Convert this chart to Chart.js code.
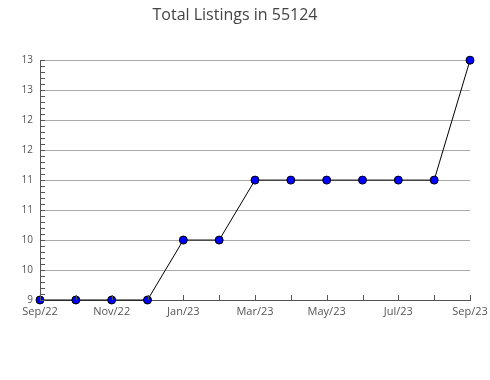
<!DOCTYPE html>
<html>
<head>
<meta charset="utf-8">
<script src="https://cdn.jsdelivr.net/npm/chart.js@4"></script>
<style>
  body { margin: 0; background: #fff; }
  #wrap { width: 490px; height: 380px; }
</style>
</head>
<body>
<div id="wrap"><canvas id="chart" width="490" height="380"></canvas></div>
<script>
const months = ["Sep/22", "Oct/22", "Nov/22", "Dec/22", "Jan/23", "Feb/23", "Mar/23",
  "Apr/23", "May/23", "Jun/23", "Jul/23", "Aug/23", "Sep/23"];
const listings = [9, 9, 9, 9, 10, 10, 11, 11, 11, 11, 11, 11, 13];
const yMin = 9;
const yMax = 13;
const yStep = 0.5;

// small inward tick marks on both axes, like the original
const innerTicks = {
  id: 'innerTicks',
  afterDatasetsDraw(chart) {
    const ctx = chart.ctx;
    const x = chart.scales.x;
    const y = chart.scales.y;
    const area = chart.chartArea;
    ctx.save();
    ctx.strokeStyle = '#555';
    ctx.lineWidth = 1;
    ctx.beginPath();
    for (let v = yMin; v <= yMax + 1e-9; v += 0.1) {
      const py = Math.round(y.getPixelForValue(v)) + 0.5;
      ctx.moveTo(area.left, py);
      ctx.lineTo(area.left + 5, py);
    }
    months.forEach((m, i) => {
      const px = Math.round(x.getPixelForValue(i)) + 0.5;
      ctx.moveTo(px, area.bottom);
      ctx.lineTo(px, area.bottom - 5);
    });
    ctx.stroke();
    ctx.restore();
  }
};

new Chart(document.getElementById('chart'), {
  type: 'line',
  data: {
    labels: months,
    datasets: [{
      data: listings,
      borderColor: '#000',
      borderWidth: 1,
      pointBackgroundColor: '#0000ff',
      pointBorderColor: '#000',
      pointBorderWidth: 1,
      pointRadius: 4,
      tension: 0,
      clip: false
    }]
  },
  options: {
    responsive: false,
    animation: false,
    layout: { padding: { left: 0, right: 20, top: 0, bottom: 0 } },
    plugins: {
      legend: { display: false },
      tooltip: { enabled: false },
      title: {
        display: true,
        text: 'Total Listings in 55124',
        color: '#444',
        font: { family: 'Open Sans', size: 16, weight: 'normal' },
        padding: { top: 6, bottom: 35 }
      }
    },
    scales: {
      x: {
        type: 'category',
        offset: false,
        afterFit: (s) => { s.height = 80; s.paddingRight = 0; s.paddingLeft = 0; },
        grid: { display: false, drawTicks: false },
        border: { display: true, color: '#555', width: 1 },
        ticks: {
          autoSkip: false,
          maxRotation: 0,
          padding: 5,
          color: '#555',
          font: { family: 'Open Sans', size: 11 },
          callback: (v, i) => (i % 2 === 0 ? months[i] : '')
        }
      },
      y: {
        min: yMin,
        max: yMax,
        afterFit: (s) => { s.width = 40; },
        grid: { color: '#aaa', drawTicks: false },
        border: { display: true, color: '#555', width: 1 },
        ticks: {
          stepSize: yStep,
          padding: 7,
          color: '#555',
          font: { family: 'Open Sans', size: 10 },
          callback: (v) => Math.round(v)
        }
      }
    }
  },
  plugins: [innerTicks]
});
</script>
</body>
</html>
